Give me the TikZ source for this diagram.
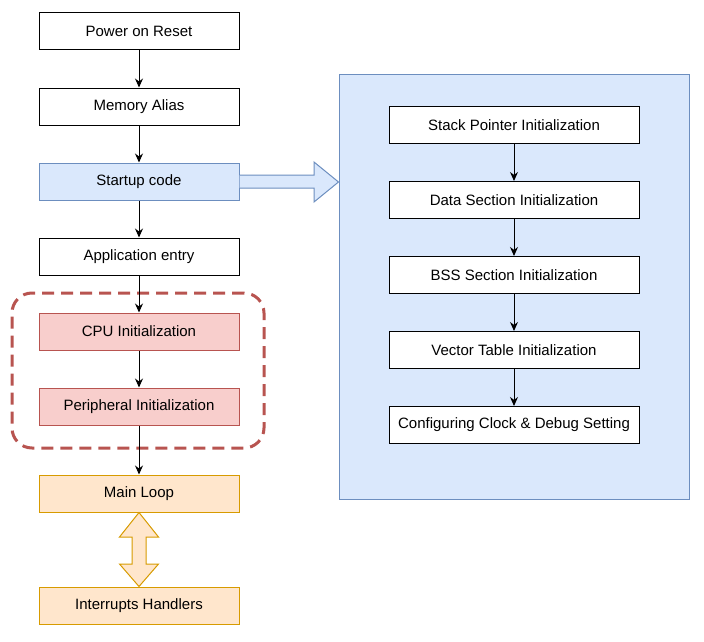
\documentclass[tikz,border=0pt]{standalone}
\usepackage{fontspec}
\setmainfont{Liberation Sans}
\usetikzlibrary{arrows.meta}
\definecolor{bluefill}{HTML}{DAE8FC}
\definecolor{bluestroke}{HTML}{6C8EBF}
\definecolor{redfill}{HTML}{F8CECC}
\definecolor{redstroke}{HTML}{B85450}
\definecolor{orangefill}{HTML}{FFE6CC}
\definecolor{orangestroke}{HTML}{D79B00}
\tikzset{
  stepbox/.style={draw=black, fill=white, line width=1pt, minimum width=200pt, minimum height=37pt,
    inner sep=0pt, font=\fontsize{15}{17}\selectfont},
  widebox/.style={stepbox, minimum width=250pt},
  bluebox/.style={stepbox, draw=bluestroke, fill=bluefill},
  redbox/.style={stepbox, draw=redstroke, fill=redfill},
  orangebox/.style={stepbox, draw=orangestroke, fill=orangefill},
  flow/.style={draw=black, line width=1pt, -{Stealth[length=9pt,width=8pt]}},
}
\begin{document}
\begin{tikzpicture}[x=1pt,y=-1pt]
\useasboundingbox (0,0) rectangle (704,642);

% initialization group on the right
\node[draw=bluestroke, fill=bluefill, line width=1pt, minimum width=350pt, minimum height=424pt, inner sep=0pt]
  (group) at (514,287) {};

% grouping frame around the CPU / peripheral steps
\node[draw=redstroke, line width=3pt, dash pattern=on 12pt off 7pt, rounded corners=20pt,
  minimum width=252pt, minimum height=155pt, inner sep=0pt] (frame) at (138,370.5) {};

% main sequence
\node[stepbox]   (reset)  at (139,31.5)  {Power on Reset};
\node[stepbox]   (alias)  at (139,106.5) {Memory Alias};
\node[bluebox]   (start)  at (139,181.5) {Startup code};
\node[stepbox]   (app)    at (139,256.5) {Application entry};
\node[redbox]    (cpu)    at (139,331.5) {CPU Initialization};
\node[redbox]    (periph) at (139,406.5) {Peripheral Initialization};
\node[orangebox] (loop)   at (139,493.5) {Main Loop};
\node[orangebox] (irq)    at (139,605.5) {Interrupts Handlers};

% startup code steps
\node[widebox] (sp)   at (514,125) {Stack Pointer Initialization};
\node[widebox] (data) at (514,200) {Data Section Initialization};
\node[widebox] (bss)  at (514,275) {BSS Section Initialization};
\node[widebox] (vec)  at (514,350) {Vector Table Initialization};
\node[widebox] (clk)  at (514,425) {Configuring Clock \& Debug Setting};

\draw[flow] (reset) -- (alias);
\draw[flow] (alias) -- (start);
\draw[flow] (start) -- (app);
\draw[flow] (app) -- (cpu);
\draw[flow] (cpu) -- (periph);
\draw[flow] (periph) -- (loop);
\draw[flow] (sp) -- (data);
\draw[flow] (data) -- (bss);
\draw[flow] (bss) -- (vec);
\draw[flow] (vec) -- (clk);

% block arrow from startup code into the group
\draw[draw=bluestroke, fill=bluefill, line width=1pt, line join=miter]
  (start.east |- 0,175) -- (314,175) -- (314,162) -- (group.west |- 0,182)
  -- (314,202) -- (314,188) -- (start.east |- 0,188);

% two-way block arrow between main loop and interrupt handlers
\draw[draw=orangestroke, fill=orangefill, line width=1pt, line join=miter]
  (loop.south) -- (158.5,537) -- (146,537) -- (146,564) -- (158.5,564) -- (irq.north)
  -- (119.5,564) -- (132,564) -- (132,537) -- (119.5,537) -- cycle;
\end{tikzpicture}
\end{document}
